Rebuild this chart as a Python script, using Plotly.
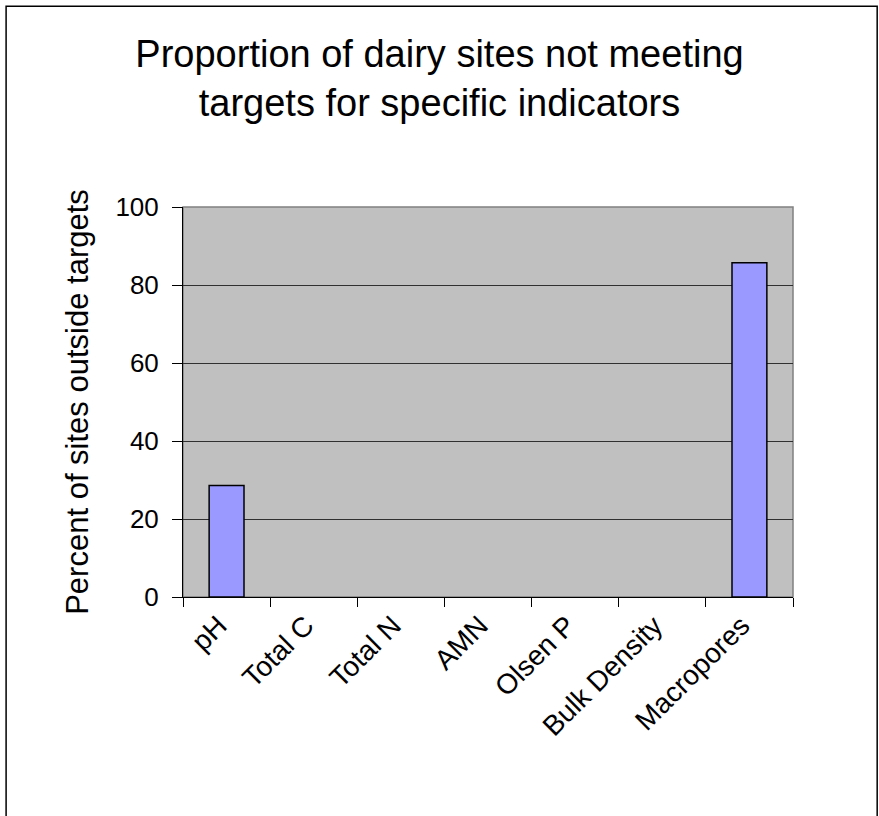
import plotly.graph_objects as pg

indicators = ["pH", "Total C", "Total N", "AMN", "Olsen P", "Bulk Density", "Macropores"]
percent_outside = [28.6, 0, 0, 0, 0, 0, 85.7]
y_ticks = [0, 20, 40, 60, 80, 100]

font = "Liberation Sans, Arial, sans-serif"

# no outline on empty bars
outline = [1.5 if v > 0 else 0 for v in percent_outside]

fig = pg.Figure()
fig.add_trace(pg.Bar(x=indicators, y=percent_outside, width=0.4,
                     marker=dict(color="#9999FF", line=dict(color="black", width=outline))))

fig.update_layout(
    width=879, height=816,
    margin=dict(l=183, r=86, t=207, b=219),
    paper_bgcolor="white", plot_bgcolor="#C0C0C0",
    font=dict(family=font, color="black"),
    showlegend=False,
    title=dict(text="Proportion of dairy sites not meeting<br>targets for specific indicators",
               x=0.5, xanchor="center", y=0.918, yanchor="top",
               font=dict(size=38, family=font)),
)
fig.update_xaxes(
    type="category", tickangle=-45, tickfont=dict(size=28), ticklabelshift=-8,
    showline=True, linecolor="black", linewidth=1,
    ticks="outside", tickson="boundaries", ticklen=9, tickcolor="black",
    showgrid=False,
)
fig.update_yaxes(
    range=[0, 100], tickvals=y_ticks, tickfont=dict(size=26), ticklabelstandoff=8,
    title=dict(text="Percent of sites outside targets", font=dict(size=31), standoff=17),
    showline=True, linecolor="black", linewidth=1,
    ticks="outside", ticklen=10, tickcolor="black",
    showgrid=True, gridcolor="#303030", gridwidth=1, zeroline=False,
)
# gray plot border on top/right
fig.add_shape(type="rect", xref="paper", yref="paper", x0=0, x1=1, y0=0, y1=1,
              line=dict(color="#808080", width=1.5), layer="below")
# outer chart frame
fig.add_shape(type="rect", xref="paper", yref="paper", x0=-0.29, x1=1.138, y0=-0.58, y1=1.515,
              line=dict(color="black", width=1.5))

fig.write_html("out.html", config={"displayModeBar": False},
               post_script="document.body.style.margin='0px';")
